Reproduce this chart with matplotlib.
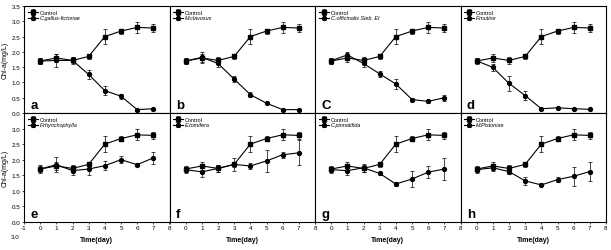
import numpy as np
import matplotlib
matplotlib.use("Agg")
import matplotlib.pyplot as plt

plt.rcParams['font.family'] = ['Liberation Sans', 'DejaVu Sans']

days = [0, 1, 2, 3, 4, 5, 6, 7]

# control (same reference group in every panel)
control = [1.70, 1.80, 1.72, 1.85, 2.50, 2.68, 2.80, 2.78]
control_err = [0.10, 0.12, 0.12, 0.08, 0.25, 0.08, 0.18, 0.12]

letters = ['a', 'b', 'C', 'd', 'e', 'f', 'g', 'h']
names = ['C.gallus-fictoriae', 'M.clavosus', 'C.officinalis Sieb. Et', 'F.mutine',
         'F.rhynchophylla', 'E.tomifera', 'C.pinnatifida', 'M.Pistoniae']

treat = [
    [1.70, 1.72, 1.72, 1.26, 0.73, 0.55, 0.11, 0.14],
    [1.70, 1.82, 1.62, 1.11, 0.60, 0.32, 0.11, 0.11],
    [1.71, 1.90, 1.62, 1.28, 0.95, 0.44, 0.38, 0.50],
    [1.71, 1.49, 0.97, 0.57, 0.14, 0.17, 0.14, 0.12],
    [1.70, 1.84, 1.65, 1.70, 1.81, 2.00, 1.84, 2.06],
    [1.68, 1.61, 1.72, 1.85, 1.80, 1.96, 2.16, 2.22],
    [1.68, 1.65, 1.74, 1.56, 1.22, 1.38, 1.60, 1.70],
    [1.68, 1.74, 1.62, 1.32, 1.19, 1.36, 1.47, 1.62],
]
treat_err = [
    [0.10, 0.22, 0.10, 0.15, 0.15, 0.08, 0.03, 0.03],
    [0.10, 0.18, 0.12, 0.10, 0.08, 0.04, 0.03, 0.03],
    [0.10, 0.10, 0.12, 0.10, 0.15, 0.05, 0.05, 0.10],
    [0.08, 0.10, 0.25, 0.15, 0.03, 0.03, 0.03, 0.03],
    [0.12, 0.25, 0.15, 0.20, 0.15, 0.12, 0.05, 0.20],
    [0.10, 0.15, 0.10, 0.20, 0.10, 0.35, 0.10, 0.40],
    [0.10, 0.15, 0.12, 0.05, 0.08, 0.25, 0.20, 0.35],
    [0.10, 0.10, 0.08, 0.12, 0.05, 0.08, 0.30, 0.30],
]

fig = plt.figure(figsize=(6.11, 2.51), dpi=100)
W, H = 611, 251
left_px, right_px = 24, 606
pw = (right_px - left_px) / 4
rows = [(7, 114), (114, 223)]

for i in range(8):
    r, c = divmod(i, 4)
    top, bot = rows[r]
    ax = fig.add_axes([(left_px + c * pw) / W, (H - bot) / H, pw / W, (bot - top) / H])
    ax.errorbar(days, control, yerr=control_err, color='black', marker='s', ms=2.8,
                lw=0.8, elinewidth=0.5, capsize=1.5, capthick=0.5, label='Control')
    ax.errorbar(days, treat[i], yerr=treat_err[i], color='black', marker='o', ms=2.8,
                lw=0.8, elinewidth=0.5, capsize=1.5, capthick=0.5, label=names[i])
    ax.set_xlim(-1, 8)
    ax.set_ylim(0, 3.5)
    for s in ax.spines.values():
        s.set_linewidth(0.8)
    ax.tick_params(labelsize=4.5, length=1.5, width=0.5, pad=1)
    ax.set_xticks(range(-1, 9))
    if r == 0:
        ax.set_xticklabels([])
        ax.tick_params(axis='x', length=0)
        yt = np.arange(0, 3.51, 0.5)
    else:
        lab = [str(d) for d in range(0, 8)]
        first = '-1' if c == 0 else '8'
        last = '8' if c == 3 else ''
        ax.set_xticklabels([first] + lab + [last])
        ax.set_xlabel('Time(day)', fontsize=5, fontweight='bold', labelpad=4)
        yt = np.arange(0, 3.01, 0.5)
    ax.set_yticks(yt)
    if c == 0:
        ax.set_yticklabels(['%.1f' % v for v in yt])
        ax.set_ylabel('Chl-a(mg/L)', fontsize=5, labelpad=2)
    else:
        ax.set_yticklabels([])
        ax.tick_params(axis='y', length=0)
    ax.text(-0.6, 0.15, letters[i], fontsize=9.5, fontweight='bold')
    leg = ax.legend(loc='upper left', fontsize=4, frameon=False, handlelength=1.8,
                    borderaxespad=0.3, labelspacing=0.1, handletextpad=0.3)
    leg.get_texts()[1].set_style('italic')

fig.text(15 / W, 1 - 238 / H, '3.0', fontsize=4.5, ha='center', va='center')

fig.savefig('out.png', dpi=100)
